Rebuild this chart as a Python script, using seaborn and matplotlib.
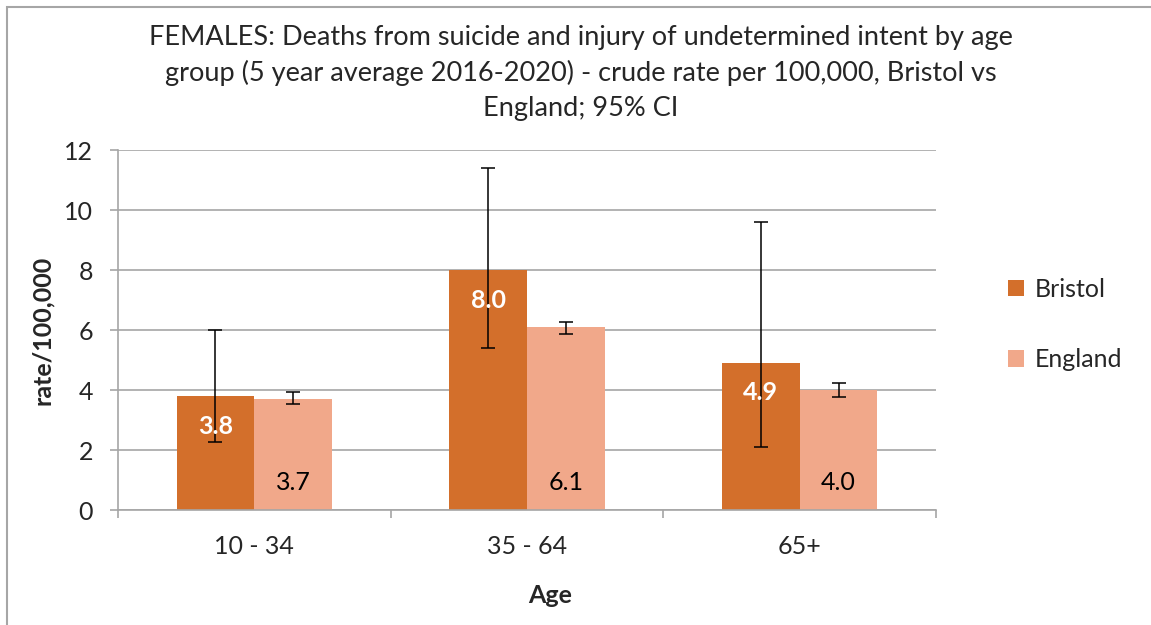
import pandas as pd
import numpy as np
import matplotlib.pyplot as plt
import matplotlib.patches as mpatches
import seaborn as sns

sns.set_theme(style="white")
plt.rcParams['font.family'] = ['Lato', 'DejaVu Sans']

# data
age_groups = ['10 - 34', '35 - 64', '65+']
areas = ['Bristol', 'England']
bristol_rate = [3.8, 8.0, 4.9]
bristol_lower = [2.27, 5.4, 2.1]
bristol_upper = [6.0, 11.4, 9.6]
england_rate = [3.7, 6.1, 4.0]
england_lower = [3.53, 5.87, 3.77]
england_upper = [3.93, 6.27, 4.23]
colors = {'Bristol': '#D36F2B', 'England': '#F1A88A'}

df = pd.DataFrame({
    'Age': age_groups * 2,
    'Area': ['Bristol'] * 3 + ['England'] * 3,
    'Rate': bristol_rate + england_rate,
    'Lower': bristol_lower + england_lower,
    'Upper': bristol_upper + england_upper,
})

grey = '#A6A6A6'
fs = 18
W, H = 1151, 625
fig = plt.figure(figsize=(W / 100, H / 100), dpi=100)
ax = fig.add_axes([118 / W, 115 / H, 818 / W, 360 / H])

sns.barplot(data=df, x='Age', y='Rate', hue='Area', hue_order=areas, palette=colors,
            width=0.57, errorbar=None, saturation=1, linewidth=0, ax=ax)

# error bars and value labels
for area, cont in zip(areas, ax.containers):
    sub = df[df['Area'] == area]
    xs = [b.get_x() + b.get_width() / 2 for b in cont]
    rate = sub['Rate'].values
    err = [rate - sub['Lower'].values, sub['Upper'].values - rate]
    ax.errorbar(xs, rate, yerr=err, fmt='none', ecolor='black', elinewidth=1.1,
                capsize=5, capthick=1.1, zorder=5)
    for x, v in zip(xs, rate):
        if area == 'Bristol':
            ax.text(x, v - 1.0, f'{v:.1f}', ha='center', va='center', color='white',
                    fontsize=fs, fontweight='bold', zorder=6)
        else:
            ax.text(x, 0.93, f'{v:.1f}', ha='center', va='center', color='black',
                    fontsize=fs, zorder=6)

ax.set_ylim(0, 12)
ax.set_yticks(range(0, 13, 2))
ax.set_xlim(-0.5, 2.5)
ax.set_xticks([-0.5, 0.5, 1.5, 2.5], minor=True)
ax.yaxis.grid(True, color=grey, linewidth=1.2)
ax.set_axisbelow(True)
for s in ['top', 'right']:
    ax.spines[s].set_visible(False)
for s in ['left', 'bottom']:
    ax.spines[s].set_color(grey)
    ax.spines[s].set_linewidth(1.2)

ax.tick_params(axis='y', left=True, length=6, width=1.2, color=grey, labelsize=fs, pad=12)
ax.tick_params(axis='x', which='major', length=0, labelsize=fs, pad=18)
ax.tick_params(axis='x', which='minor', bottom=True, length=6, width=1.2, color=grey)

ax.set_xlabel('Age', fontsize=fs, fontweight='bold')
ax.xaxis.set_label_coords((550 - 118) / 818, (510 - 584) / 360)
ax.set_ylabel('rate/100,000', fontsize=fs, fontweight='bold')
ax.yaxis.set_label_coords((54 - 118) / 818, 0.5)

handles, labels = ax.get_legend_handles_labels()
ax.legend(handles, labels, loc='center left', bbox_to_anchor=(985 / W, 0.481),
          bbox_transform=fig.transFigure, frameon=False, fontsize=fs,
          handlelength=0.65, handleheight=0.65, handletextpad=0.45, labelspacing=1.9)

fig.text(581 / W, 1 - 73 / H,
         'FEMALES: Deaths from suicide and injury of undetermined intent by age\n'
         'group (5 year average 2016-2020) - crude rate per 100,000, Bristol vs\n'
         'England; 95% CI',
         ha='center', va='center', fontsize=19.5, linespacing=1.5)

# chart-area border (cropped on the right and bottom)
fig.add_artist(mpatches.Rectangle((7 / W, -0.1), 1.2, 1.1 - 7 / H, transform=fig.transFigure,
                                  fill=False, edgecolor=grey, linewidth=1.5))

fig.savefig('out.png', dpi=100)
